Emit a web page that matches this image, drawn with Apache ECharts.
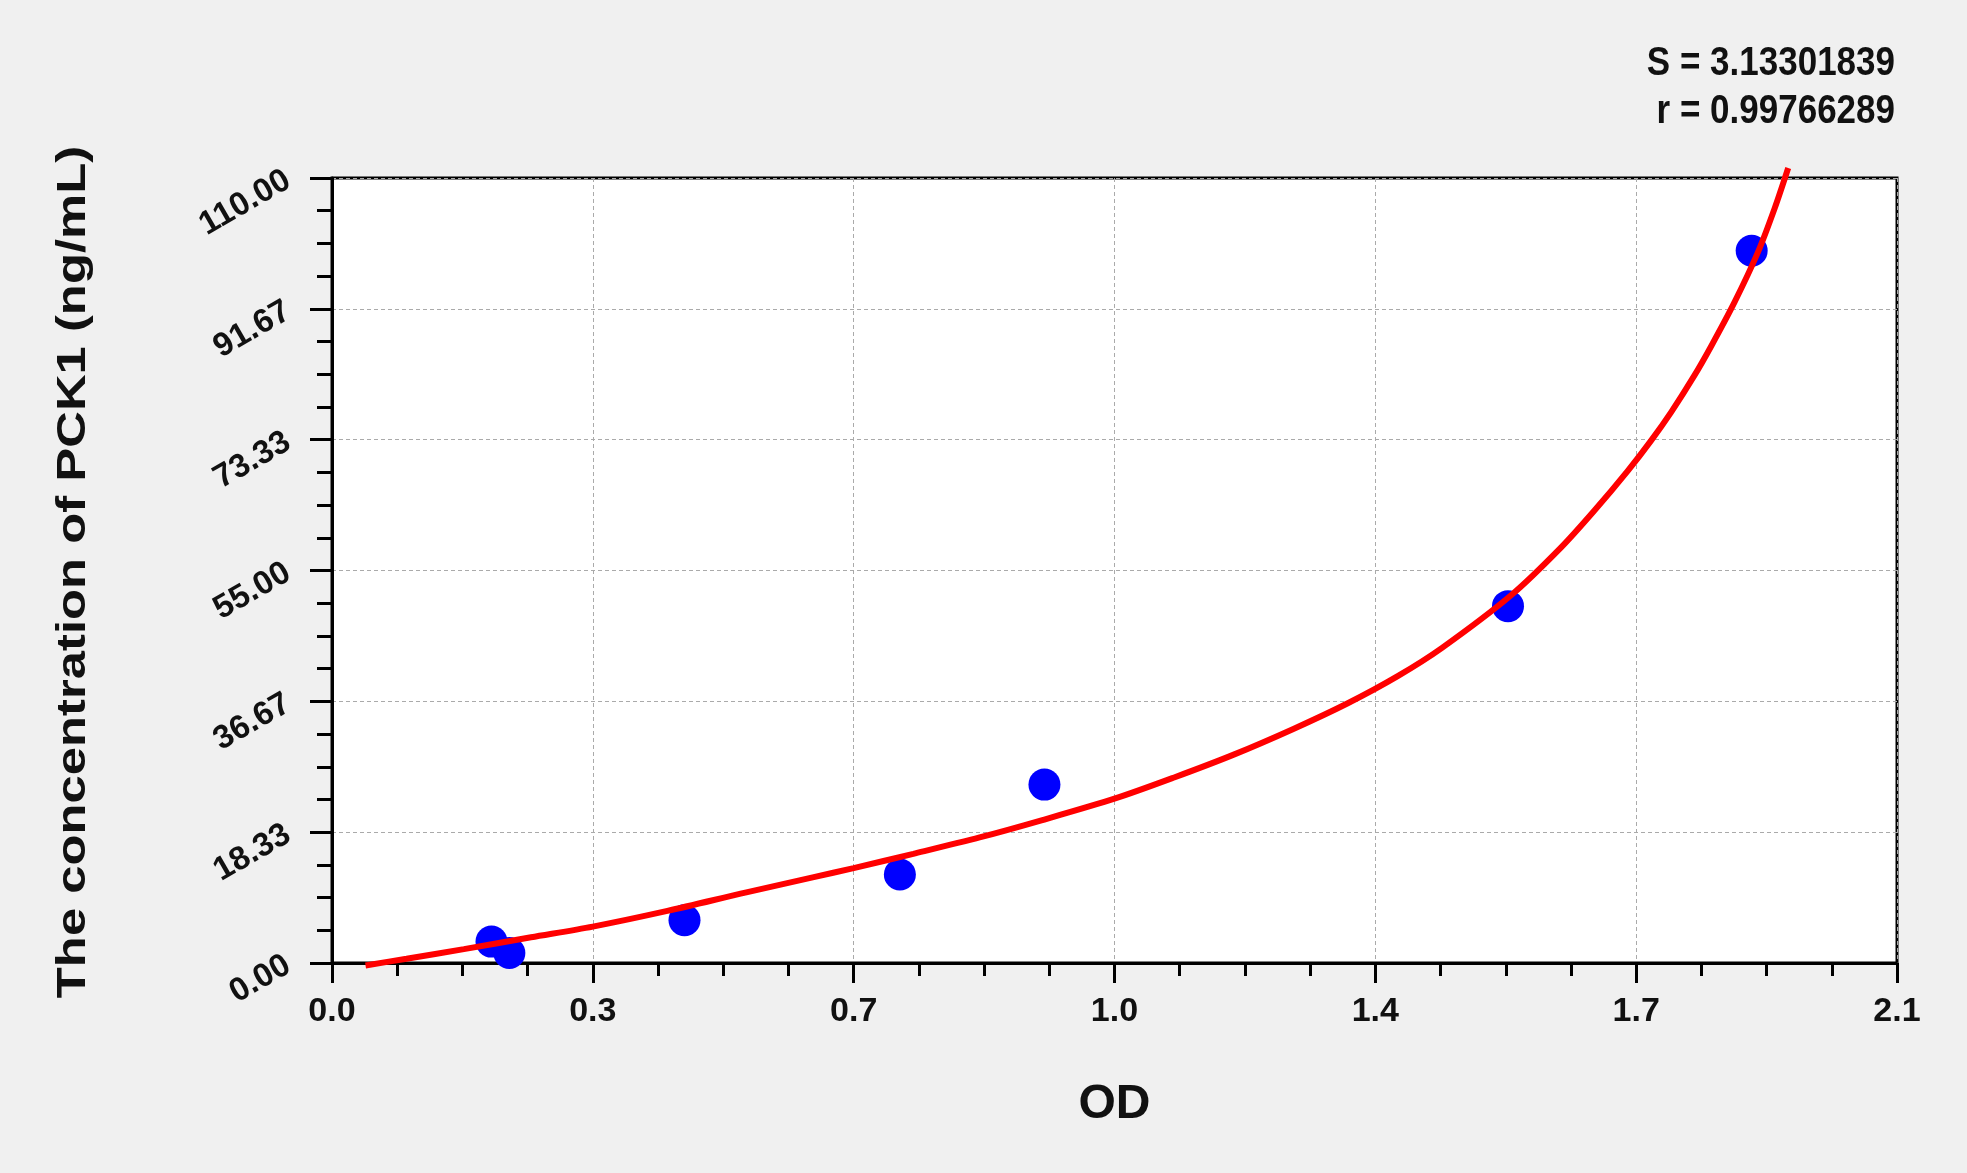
<!DOCTYPE html>
<html>
<head>
<meta charset="utf-8">
<script src="https://cdn.jsdelivr.net/npm/echarts@6/dist/echarts.min.js"></script>
<style>
html,body{margin:0;padding:0;background:#f0f0f0;}
#chart{width:1967px;height:1173px;}
</style>
</head>
<body>
<div id="chart"></div>
<script>
// Tick labels
const xTickLabels = ['0.0', '0.3', '0.7', '1.0', '1.4', '1.7', '2.1'];
const yTickLabels = ['0.00', '18.33', '36.67', '55.00', '73.33', '91.67', '110.00'];

// Standard points (OD, concentration)
const stdOD   = [0.214, 0.238, 0.473, 0.762, 0.956, 1.578, 1.905];
const stdConc = [3.0,   1.4,   6.0,   12.4,  25.0,  50.0,  99.8];

// Fitted curve
const fitOD   = [0.045, 0.100, 0.177, 0.267, 0.350, 0.450, 0.556, 0.645, 0.700, 0.780, 0.869, 0.952, 1.052, 1.130, 1.210, 1.290, 1.363, 1.430, 1.490, 1.583, 1.649, 1.694, 1.739, 1.770, 1.797, 1.828, 1.851, 1.882, 1.913, 1.936, 1.954];
const fitConc = [-0.35, 0.6,   1.95,  3.6,   5.1,   7.3,   9.9,   12.0,  13.3,  15.3,  17.6,  20.0,  23.1,  26.0,  29.2,  32.8,  36.4,  40.2,  44.2,  51.6,  58.2,  63.4,  69.0,  73.2,  77.2,  82.3,  86.5,  92.6,  99.5,  105.8, 111.4];

const statLines = ['S = 3.13301839', 'r = 0.99766289'];
const xName = 'OD';
const yName = 'The concentration of PCK1 (ng/mL)';

const xStep = 0.35, xMax = 2.1;
const yMax = 110, yStep = yMax / 6;

const chart = echarts.init(document.getElementById('chart'));
const font = "'Liberation Sans', Arial, sans-serif";

chart.setOption({
  animation: false,
  backgroundColor: '#f0f0f0',
  graphic: [
    {
      type: 'text', x: 74, y: 572, rotation: Math.PI / 2, scaleX: 1.27,
      style: { text: yName, font: "bold 40px 'Liberation Sans', Arial, sans-serif", fill: '#111',
               textAlign: 'center', textVerticalAlign: 'middle' }
    },
    {
      type: 'text', x: 1895, y: 64, scaleY: 1.18,
      style: { text: statLines[0], font: "bold 35px 'Liberation Sans', Arial, sans-serif", fill: '#111',
               textAlign: 'right', textVerticalAlign: 'middle' }
    },
    {
      type: 'text', x: 1895, y: 112, scaleY: 1.18,
      style: { text: statLines[1], font: "bold 35px 'Liberation Sans', Arial, sans-serif", fill: '#111',
               textAlign: 'right', textVerticalAlign: 'middle' }
    }
  ],
  grid: {
    left: 332, right: 70, top: 178, bottom: 210,
    show: true, backgroundColor: '#ffffff', borderColor: '#000', borderWidth: 3
  },
  xAxis: {
    type: 'value', min: 0, max: xMax, interval: xStep,
    name: xName, nameLocation: 'middle', nameGap: 118,
    nameTextStyle: { fontFamily: font, fontWeight: 'bold', fontSize: 48, color: '#111' },
    axisLine: { show: true, onZero: false, lineStyle: { color: '#000', width: 3 } },
    axisTick: { show: true, inside: false, length: 20, lineStyle: { color: '#000', width: 3 } },
    minorTick: { show: true, splitNumber: 4, length: 13, lineStyle: { color: '#000', width: 3 } },
    axisLabel: {
      margin: 32, fontFamily: font, fontWeight: 'bold', fontSize: 34, color: '#111',
      formatter: v => xTickLabels[Math.round(v / xStep)]
    },
    splitLine: { show: true, lineStyle: { color: '#aaaaaa', width: 1, type: [4, 3] } }
  },
  yAxis: {
    type: 'value', min: 0, max: yMax, interval: yStep,
    axisLine: { show: true, lineStyle: { color: '#000', width: 3 } },
    axisTick: { show: true, inside: false, length: 22, lineStyle: { color: '#000', width: 3 } },
    minorTick: { show: true, splitNumber: 4, length: 15, lineStyle: { color: '#000', width: 3 } },
    axisLabel: {
      margin: 44, rotate: 30, fontFamily: font, fontWeight: 'bold', fontSize: 33, color: '#111',
      formatter: v => yTickLabels[Math.round(v / yStep)]
    },
    splitLine: { show: true, lineStyle: { color: '#aaaaaa', width: 1, type: [4, 3] } }
  },
  series: [
    {
      type: 'scatter',
      data: stdOD.map((x, i) => [x, stdConc[i]]),
      symbol: 'circle', symbolSize: 32,
      itemStyle: { color: '#0000ff', opacity: 1 },
      z: 2
    },
    {
      type: 'line',
      data: fitOD.map((x, i) => [x, fitConc[i]]),
      smooth: 0.3, showSymbol: false, clip: false,
      lineStyle: { color: '#ff0000', width: 6 },
      z: 3
    }
  ]
});
</script>
</body>
</html>
